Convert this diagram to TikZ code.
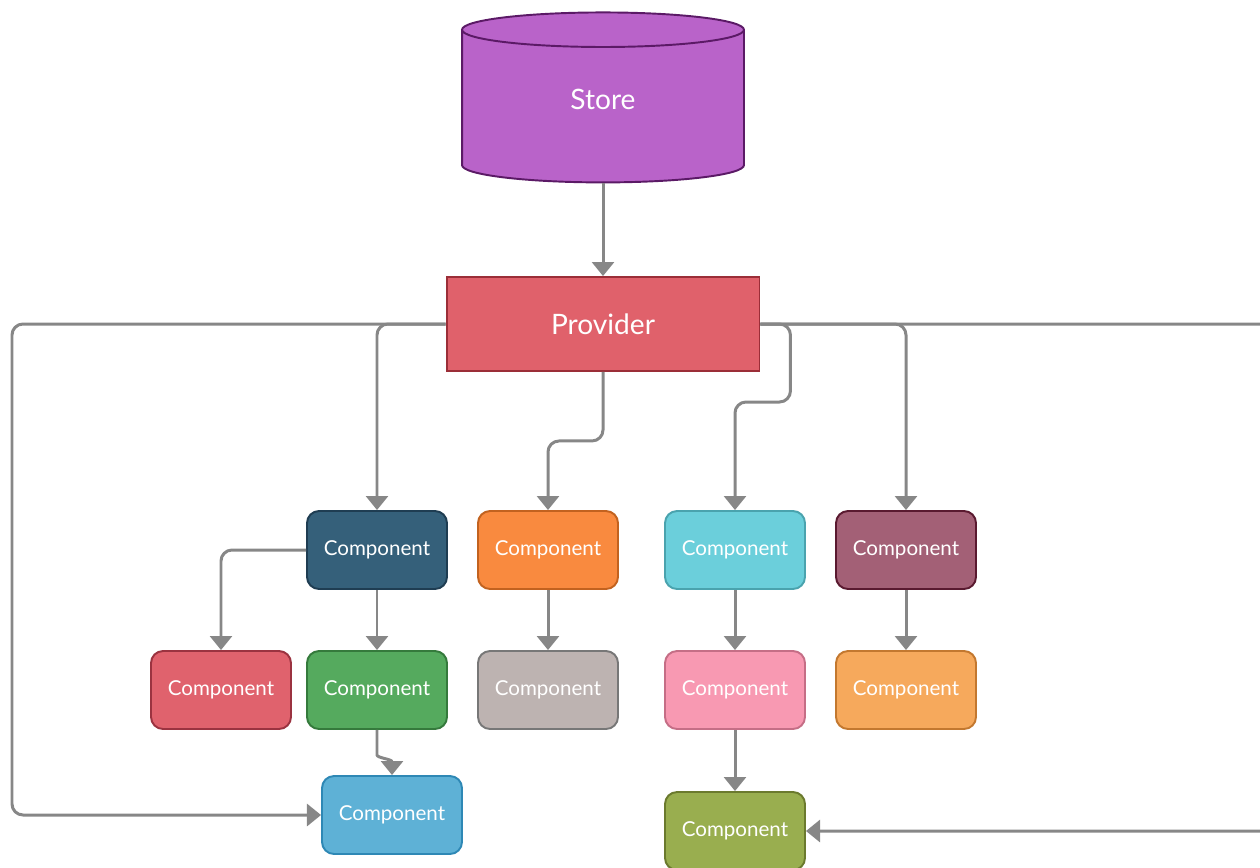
\documentclass[tikz,border=0pt]{standalone}
\usepackage{fontspec}
\setmainfont{Lato}
\usetikzlibrary{shapes.geometric,arrows.meta,positioning,calc}
\definecolor{linkgray}{HTML}{878787}
\definecolor{storefill}{HTML}{B963C9}
\definecolor{storeline}{HTML}{5B1A66}
\definecolor{provfill}{HTML}{E0616B}
\definecolor{provline}{HTML}{9B2E38}
\definecolor{navyfill}{HTML}{35607A}
\definecolor{navyline}{HTML}{1F3D52}
\definecolor{orangefill}{HTML}{F98A3F}
\definecolor{orangeline}{HTML}{C2621F}
\definecolor{cyanfill}{HTML}{6BCFDB}
\definecolor{cyanline}{HTML}{4AA3AE}
\definecolor{plumfill}{HTML}{A36076}
\definecolor{plumline}{HTML}{5A1A30}
\definecolor{redfill}{HTML}{E0626D}
\definecolor{redline}{HTML}{9B3340}
\definecolor{greenfill}{HTML}{55AA5E}
\definecolor{greenline}{HTML}{357A3C}
\definecolor{greyfill}{HTML}{BDB3B1}
\definecolor{greyline}{HTML}{777777}
\definecolor{pinkfill}{HTML}{F899B2}
\definecolor{pinkline}{HTML}{C56E86}
\definecolor{peachfill}{HTML}{F6A95C}
\definecolor{peachline}{HTML}{C3782F}
\definecolor{bluefill}{HTML}{5EB1D6}
\definecolor{blueline}{HTML}{2E88B5}
\definecolor{olivefill}{HTML}{99AE4F}
\definecolor{oliveline}{HTML}{6B7A2E}

\begin{document}
\begin{tikzpicture}[x=0.02cm, y=-0.02cm,
    comp/.style={draw=#1line, fill=#1fill, line width=1.1pt, rounded corners=0.24cm,
        minimum width=2.8cm, minimum height=1.56cm, text=white,
        font=\fontsize{11.7}{13}\selectfont},
    link/.style={draw=linkgray, line width=1.7pt, rounded corners=0.22cm,
        -{Triangle[width=12.5pt,length=8pt]}}]
    \useasboundingbox (0,0) rectangle (1260,867);

    % Store and Provider
    \node[cylinder, shape border rotate=90, aspect=0.45, draw=storeline, fill=storefill,
        line width=1.1pt, minimum width=5.64cm, minimum height=3.4cm, text=white,
        text height=11.6pt, text depth=11.4pt,
        font=\fontsize{16}{18}\selectfont] (store) at (603,109) {Store};
    \node[draw=provline, fill=provfill, line width=1.1pt, minimum width=6.26cm,
        minimum height=1.88cm, text=white, font=\fontsize{16}{18}\selectfont] (prov) at (603,324) {Provider};

    % Components, first row
    \node[comp=navy] (c1) at (377,550) {Component};
    \node[comp=orange] (c2) at (548,550) {Component};
    \node[comp=cyan] (c3) at (735,550) {Component};
    \node[comp=plum] (c4) at (906,550) {Component};

    % Components, second row
    \node[comp=red] (c5) at (221,690) {Component};
    \node[comp=green] (c6) at (377,690) {Component};
    \node[comp=grey] (c7) at (548,690) {Component};
    \node[comp=pink] (c8) at (735,690) {Component};
    \node[comp=peach] (c9) at (906,690) {Component};

    % Components, bottom
    \node[comp=blue] (c10) at (392,815) {Component};
    \node[comp=olive] (c11) at (735,831) {Component};

    \coordinate (lft) at (12,324);
    \coordinate (rgt) at (1280,324);

    % Links from Store and Provider
    \draw[link] (store) -- (prov);
    \draw[link] (prov.west) -| (c1.north);
    \draw[link] (prov.west) -- (lft) |- (c10.west);
    \draw[link] (prov.south) -- ++(0,69) -| (c2.north);
    \draw[link] (prov.east) -| ++(30,78) -| (c3.north);
    \draw[link] (prov.east) -| (c4.north);
    \draw[link] (prov.east) -- (rgt) |- (c11.east);

    % Links between components
    \draw[link] (c1.west) -| (c5.north);
    \draw[link] (c1) -- (c6);
    \draw[link] (c6.south) -- ++(0,14) .. controls +(0,14) and +(0,-16) .. (c10.north);
    \draw[link] (c2) -- (c7);
    \draw[link] (c3) -- (c8);
    \draw[link] (c4) -- (c9);
    \draw[link] (c8) -- (c11);
\end{tikzpicture}
\end{document}
